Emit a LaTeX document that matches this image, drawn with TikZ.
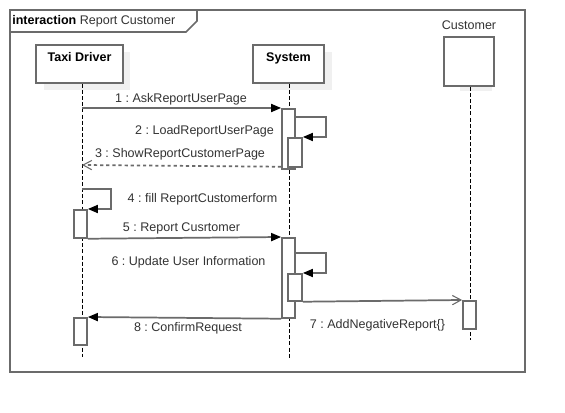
\documentclass[tikz,border=0pt]{standalone}
\usepackage{fontspec}
\setmainfont{Liberation Sans}
\usetikzlibrary{arrows.meta,positioning}
\frenchspacing

\begin{document}
\begin{tikzpicture}[x=0.75pt,y=-0.75pt,
  ln/.style={draw=c1,line width=1.3pt},
  act/.style={ln,fill=white,rectangle,inner sep=0pt,anchor=north,minimum width=9.75pt},
  head/.style={ln,fill=white,rectangle,inner sep=0pt},
  life/.style={black,line width=0.7pt,dash pattern=on 3pt off 1.6pt},
  msg/.style={ln,-{Triangle[length=7.5pt,width=6pt,color=black]}},
  reply/.style={ln,dash pattern=on 2.4pt off 2.2pt,-{Straight Barb[length=6.5pt,width=7pt,line width=0.8pt]}},
  async/.style={ln,-{Straight Barb[length=6.5pt,width=7pt,line width=0.8pt]}},
  lbl/.style={text=c2,inner sep=0pt,font=\fontsize{9.4}{11}\selectfont},
  hd/.style={lbl,text=black,font=\fontsize{9.4}{11}\selectfont\bfseries}]

\definecolor{c1}{rgb}{0.42, 0.42, 0.42}
\definecolor{c2}{rgb}{0.2, 0.2, 0.2}
\definecolor{c3}{rgb}{0.94, 0.94, 0.94}

\useasboundingbox (0,0) rectangle (565,413);

\fill[white] (0,0) rectangle (565,413);
\draw[ln] (10,10) rectangle (525,372);
\draw[ln] (10,32) -- (186,32) -- (197,21) -- (197,10);
\node[lbl,anchor=west] (title) at (12,21) {\textbf{\color{black}interaction} Report Customer};

\fill[c3] (44,52) rectangle (130,90);
\fill[c3] (260,52) rectangle (332,90);
\fill[c3] (460,45) rectangle (492,91);

\node[head,minimum width=65.25pt,minimum height=28.5pt] (td) at (79.5,64) {};
\node[head,minimum width=53.25pt,minimum height=28.5pt] (sys) at (288.5,64) {};
\node[head,minimum width=37.5pt,minimum height=36.75pt] (cus) at (469,61.5) {};
\node[hd,below=6.2pt of td.north] (tdname) {Taxi Driver};
\node[hd,below=6.2pt of sys.north] (sysname) {System};
\node[lbl,above=5pt of cus.north] (cusname) {Customer};

\coordinate (tEnd) at (82,357);
\coordinate (sEnd) at (289,358);
\coordinate (cEnd) at (470,340);
\draw[life] (td.south -| tEnd) -- (tEnd);
\draw[life] (sys.south -| sEnd) -- (sEnd);
\draw[life] (cus.south -| cEnd) -- (cEnd);

\node[act,minimum height=45pt] (sA1) at (288.5,108) {};
\node[act,minimum width=10.5pt,minimum height=21.75pt] (sN1) at (295,137) {};
\node[act,minimum height=21pt] (tA1) at (80.5,209) {};
\node[act,minimum height=60pt] (sA2) at (288.5,237) {};
\node[act,minimum width=10.5pt,minimum height=20.25pt] (sN2) at (295,273) {};
\node[act,minimum height=21pt] (cA1) at (469.5,300) {};
\node[act,minimum height=20.25pt] (tA2) at (80.5,317) {};

\coordinate (t1) at (82,108);
\coordinate (t3) at (82,165);
\coordinate (t4) at (82,189);

\draw[msg] (t1) -- (sA1.north west);
\draw[msg] ([yshift=-6.75pt]sA1.north east) -- ++(30,0) |- (sN1.north east);
\draw[reply] ([yshift=2.25pt]sA1.south west) -- (t3);
\draw[msg] (t4) -- ++(29,0) |- (tA1.north east);
\draw[msg] (tA1.south east) -- (sA2.north west);
\draw[msg] ([yshift=-12pt]sA2.north east) -- ++(30,0) |- (sN2.north east);
\draw[async] (sN2.south east) -- (cA1.north west);
\draw[msg] (sA2.south west) -- (tA2.north east);

\node[lbl] (l1) at (181,99) {1 : AskReportUserPage};
\node[lbl] (l2) at (204.5,131) {2 : LoadReportUserPage};
\node[lbl] (l3) at (180,154) {3 : ShowReportCustomerPage};
\node[lbl] (l4) at (202.5,199) {4 : fill ReportCustomerform};
\node[lbl] (l5) at (181.5,228) {5 : Report Cusrtomer};
\node[lbl] (l6) at (188.5,262) {6 : Update User Information};
\node[lbl] (l7) at (377.5,325) {7 : AddNegativeReport\{\}};
\node[lbl] (l8) at (188,328) {8 : ConfirmRequest};

\end{tikzpicture}
\end{document}
